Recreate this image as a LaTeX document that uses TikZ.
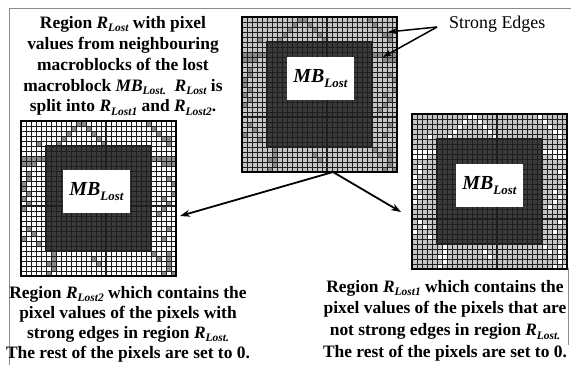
\documentclass[tikz,border=0pt]{standalone}
\usepackage{fontspec}
\setmainfont{Liberation Serif}
\usetikzlibrary{arrows.meta}
\definecolor{cellbase}{HTML}{C4C4C4}
\definecolor{celledge}{HTML}{8A8A8A}
\definecolor{celldark}{HTML}{3A3A3A}
\definecolor{gridline}{HTML}{1E1E1E}
\definecolor{framegray}{HTML}{8C8C8C}
\newcommand\lostsub[2]{\textit{#1}\raisebox{-0.45ex}{\fontsize{11.5}{12}\selectfont\itshape #2}}
\newcommand\mblabel{\fontsize{20}{22}\selectfont\bfseries\itshape MB\raisebox{-0.45ex}{\fontsize{13}{14}\selectfont Lost}}
\newcommand\edgelist{11/0,12/0,25/0,10/1,13/1,26/1,9/2,14/2,27/2,8/3,15/3,28/3,29/3,7/4,16/4,29/4,3/4,
0/7,1/7,2/7,3/7,4/7,0/8,1/8,2/8,26/7,27/7,28/7,29/7,30/7,28/8,29/8,30/8,
1/10,1/11,0/12,0/13,1/14,0/15,1/16,0/17,29/11,30/12,30/14,28/15,29/16,28/17,27/18,
1/21,2/22,0/23,3/24,29/21,28/23,
6/26,6/27,5/28,6/28,6/29,5/30,14/27,15/28,26/26,27/27,29/26,29/27,29/28,29/29,30/30,28/30}
% #1 x, #2 y, #3 base colour, #4 edge colour, #5 thick row offset, #6 MB box x offset, #7 MB box y offset, #8 name
\newcommand\pixgrid[8]{%
\begin{scope}[shift={(#1,#2)}]
  \fill[#3] (0,0) rectangle (155,155);
  \foreach \c/\r in \edgelist {\fill[#4] (\c*5,\r*5) rectangle ++(5,5);}
  \fill[celldark] (25,25) rectangle (130,130);
  \foreach \i in {1,...,30} {\draw[gridline,line width=0.5] (\i*5,0) -- (\i*5,155);
                             \draw[gridline,line width=0.5] (0,\i*5) -- (155,\i*5);}
  \draw[gridline,line width=1.1] (85,0) -- (85,155) (0,#5) -- (155,#5);
  \draw[gridline,line width=1.1] (25,25) rectangle (130,130);
  \draw[black,line width=1.2] (0,0) rectangle (155,155);
  \fill[white] (#6,#7) rectangle ++(67,43);
  \node[inner sep=0] (#8) at (#6+33.5,#7+21.5) {\mblabel};
\end{scope}}
\tikzset{
  bigtext/.style={align=center,inner sep=0,font=\fontsize{17.5}{21}\selectfont\bfseries},
  bigarrow/.style={line width=1.8,-{Stealth[length=10,width=7]}},
  edgearrow/.style={line width=1.5,-{Stealth[length=9,width=6]}}
}
\begin{document}
\begin{tikzpicture}[x=1bp,y=-1bp]
\useasboundingbox (0,0) rectangle (571,365);
\fill[white] (0,0) rectangle (571,365);
\draw[framegray,line width=1] (9,365) -- (9,8) -- (571,8);
\draw[framegray,line width=1] (568,268) -- (568,345);
% grids
\pixgrid{242}{17}{cellbase}{celledge}{100}{45}{40}{mbtop}
\pixgrid{21}{121}{white}{celledge}{85}{42}{49}{mbleft}
\pixgrid{412}{114}{cellbase}{white}{105}{44}{50}{mbright}
% texts
\node[bigtext,anchor=north] (toptext) at (123,16) {Region \lostsub{R}{Lost} with pixel\\values from neighbouring\\macroblocks of the lost\\macroblock \lostsub{MB}{Lost.} \ \lostsub{R}{Lost} is\\split into \lostsub{R}{Lost1} and \lostsub{R}{Lost2}.};
\node[bigtext,anchor=north,font=\fontsize{17.5}{20}\selectfont\bfseries] (lefttext) at (128,286) {Region \lostsub{R}{Lost2} which contains the\\pixel values of the pixels with\\strong edges in region \lostsub{R}{Lost.}\\The rest of the pixels are set to 0.};
\node[bigtext,anchor=north,font=\fontsize{17.5}{21.7}\selectfont\bfseries] (righttext) at (445,280) {Region \lostsub{R}{Lost1} which contains the\\pixel values of the pixels that are\\not strong edges in region \lostsub{R}{Lost.}\\The rest of the pixels are set to 0.};
\node[anchor=base west,inner sep=0,font=\fontsize{18}{20}\selectfont] (strong) at (449,28) {Strong Edges};
% arrows
\coordinate (sestart) at (437,27);
\coordinate (edgeA) at (388,32);
\coordinate (edgeB) at (383,57);
\draw[edgearrow] (sestart) -- (edgeA);
\draw[edgearrow] (sestart) -- (edgeB);
\coordinate (split) at (333,172);
\coordinate (tipL) at (180,216);
\coordinate (tipR) at (401,212);
\draw[bigarrow] (split) -- (tipL);
\draw[bigarrow] (split) -- (tipR);
\end{tikzpicture}
\end{document}
